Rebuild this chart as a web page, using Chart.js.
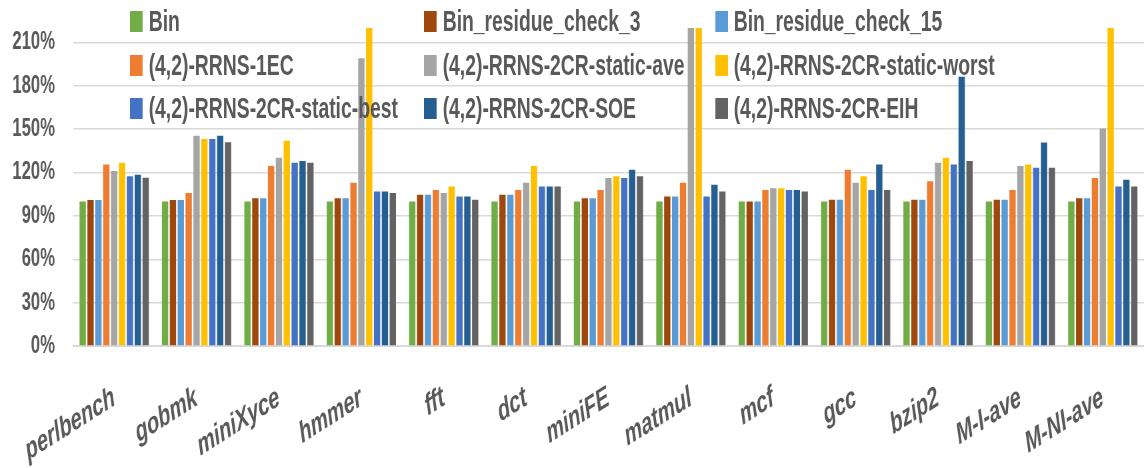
<!DOCTYPE html>
<html>
<head>
<meta charset="utf-8">
<script src="https://cdn.jsdelivr.net/npm/chart.js@4/dist/chart.umd.min.js"></script>
<style>
  html, body { margin: 0; padding: 0; background: #fff; overflow: hidden; }
  /* the chart is laid out 1.5x wide, then narrowed to the page width */
  #wrap { position: relative; width: 1716px; height: 468px;
          transform: scaleX(0.6666667); transform-origin: 0 0; }
  #legend {
    position: absolute; left: 0; top: 0; width: 1716px; height: 130px;
    pointer-events: none;
    font-family: "Liberation Sans", Arial, sans-serif;
    font-weight: bold; font-size: 29px; color: #595959;
  }
  .item { position: absolute; display: flex; align-items: center; height: 30px; white-space: nowrap; }
  .swatch { width: 19px; height: 21px; margin-right: 9px; }
</style>
</head>
<body>
<div id="wrap">
  <canvas id="c" width="1716" height="468"></canvas>
  <div id="legend"></div>
</div>
<script>
// Benchmarks on the x axis
const categories = ['perlbench', 'gobmk', 'miniXyce', 'hmmer', 'fft', 'dct', 'miniFE',
                    'matmul', 'mcf', 'gcc', 'bzip2', 'M-I-ave', 'M-NI-ave'];

// Series names
const seriesNames = ['Bin', 'Bin_residue_check_3', 'Bin_residue_check_15',
  '(4,2)-RRNS-1EC', '(4,2)-RRNS-2CR-static-ave', '(4,2)-RRNS-2CR-static-worst',
  '(4,2)-RRNS-2CR-static-best', '(4,2)-RRNS-2CR-SOE', '(4,2)-RRNS-2CR-EIH'];

// Normalised execution time (%) per benchmark
const bin            = [100, 100, 100, 100, 100, 100, 100, 100, 100, 100, 100, 100, 100];
const binResCheck3   = [101, 101, 102.3, 102.3, 104.6, 104.6, 102.3, 103.5, 100, 101.2, 101.2, 101.2, 102.3];
const binResCheck15  = [101, 101, 102.3, 102.3, 104.6, 104.6, 102.3, 103.5, 100, 101.2, 101.2, 101.2, 102.3];
const rrns1EC        = [125.5, 105.8, 124.5, 113, 108, 108, 108, 113, 108, 122, 113.9, 108, 116.2];
const staticAve      = [121, 145.5, 130.3, 199, 105.8, 113, 116.2, 232, 109.2, 113, 126.8, 124.5, 150.4];
const staticWorst    = [126.8, 143.2, 142, 240, 110.4, 124.5, 117.4, 236, 109.2, 117.4, 130.3, 125.6, 245];
const staticBest     = [117.5, 143.2, 126.8, 106.9, 103.5, 110.4, 116.2, 103.5, 108, 108, 125.6, 123.3, 110.4];
const soe            = [118.5, 145.5, 128, 106.9, 103.5, 110.4, 122, 111.5, 108, 125.6, 186.2, 140.7, 115];
const eih            = [116.4, 140.9, 126.8, 105.8, 101.2, 110.4, 117.4, 106.9, 106.9, 108, 128, 123.3, 110.4];

// Y axis ticks (%)
const yTicks = [0, 30, 60, 90, 120, 150, 180, 210];

const seriesValues = [bin, binResCheck3, binResCheck15, rrns1EC, staticAve,
                      staticWorst, staticBest, soe, eih];
const seriesColors = ['#70AD47', '#9E480E', '#5B9BD5', '#ED7D31', '#A5A5A5',
                      '#FFC000', '#4472C4', '#255E91', '#636363'];

const FONT = '"Liberation Sans", Arial, sans-serif';
const S = 1.5; // horizontal layout factor

const datasets = seriesNames.map((name, i) => ({
  label: name,
  data: seriesValues[i],
  backgroundColor: seriesColors[i],
  borderWidth: 0,
  barPercentage: 0.8,
  categoryPercentage: 0.86
}));

new Chart(document.getElementById('c'), {
  type: 'bar',
  data: { labels: categories, datasets },
  options: {
    responsive: false,
    animation: false,
    layout: { padding: { top: 28, right: 0, left: 0, bottom: 0 } },
    plugins: { legend: { display: false }, tooltip: { enabled: false } },
    scales: {
      x: {
        grid: { display: false },
        border: { color: '#d9d9d9', width: 2 },
        ticks: {
          color: '#595959',
          font: { family: FONT, size: 30, weight: 'bold', style: 'italic' },
          minRotation: 23, maxRotation: 23, padding: 26, autoSkip: false
        },
        afterFit(scale) { scale.height = 122; }
      },
      y: {
        min: 0, max: 220,
        border: { display: false },
        grid: { color: '#d9d9d9', lineWidth: 1.5, drawTicks: true,
                tickLength: 25, tickColor: 'rgba(0,0,0,0)' },
        ticks: {
          color: '#595959',
          font: { family: FONT, size: 25, weight: 'bold' },
          padding: 2,
          callback: v => v + '%'
        },
        afterBuildTicks(scale) {
          scale.ticks = yTicks.map(v => ({ value: v }));
        },
        afterFit(scale) { scale.width = 73 * S; }
      }
    }
  }
});

// Three-column legend laid over the top of the plot
const legend = document.getElementById('legend');
const colX = [130, 424, 715];
const rowY = [6, 50, 93];
seriesNames.forEach((name, i) => {
  const el = document.createElement('div');
  el.className = 'item';
  el.style.left = (colX[i % 3] * S) + 'px';
  el.style.top = rowY[Math.floor(i / 3)] + 'px';
  const sw = document.createElement('span');
  sw.className = 'swatch';
  sw.style.background = seriesColors[i];
  const tx = document.createElement('span');
  tx.textContent = name;
  el.appendChild(sw);
  el.appendChild(tx);
  legend.appendChild(el);
});
</script>
</body>
</html>
